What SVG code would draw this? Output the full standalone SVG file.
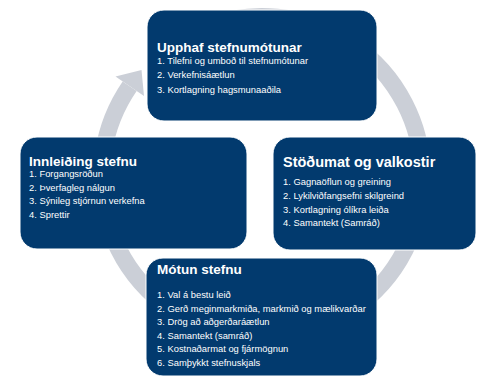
<svg xmlns="http://www.w3.org/2000/svg" width="485" height="381" viewBox="0 0 485 381">
  <style>
    .box { fill: #023a6e; stroke: #ffffff; stroke-width: 1; }
    .title { font-family: "Liberation Sans", Arial, sans-serif; font-weight: bold; font-size: 13.5px; fill: #ffffff; }
    .item { font-family: "Liberation Sans", Arial, sans-serif; font-size: 9.4px; fill: #ffffff; }
    .ring { fill: none; stroke: #cbcfd7; stroke-width: 17; }
    .head { fill: #cbcfd7; }
  </style>
  <rect width="485" height="381" fill="#ffffff"/>
  <g id="connectors">
    <path class="ring" d="M 207.1 26.2 A 160.5 160.5 0 1 1 129.65 86.2"/>
    <polygon class="head" points="115.5,76.5 141.5,70 144,96"/>
  </g>
  <g id="node-upphaf">
    <rect class="box" x="147" y="10" width="230" height="111" rx="17"/>
    <text class="title" x="157" y="52">Upphaf stefnumótunar</text>
    <text class="item" x="157" y="64">1. Tilefni og umboð til stefnumótunar</text>
    <text class="item" x="157" y="78">2. Verkefnisáætlun</text>
    <text class="item" x="157" y="93">3. Kortlagning hagsmunaaðila</text>
  </g>
  <g id="node-innleiding">
    <rect class="box" x="20" y="137" width="227" height="112" rx="17"/>
    <text class="title" x="29" y="166">Innleiðing stefnu</text>
    <text class="item" x="29" y="177">1. Forgangsröðun</text>
    <text class="item" x="29" y="190.5">2. Þverfagleg nálgun</text>
    <text class="item" x="29" y="204">3. Sýnileg stjórnun verkefna</text>
    <text class="item" x="29" y="217.5">4. Sprettir</text>
  </g>
  <g id="node-stodumat">
    <rect class="box" x="273" y="137" width="203" height="113" rx="17"/>
    <text class="title" x="283" y="167" style="font-size:14.5px">Stöðumat og valkostir</text>
    <text class="item" x="283" y="185">1. Gagnaöflun og greining</text>
    <text class="item" x="283" y="199">2. Lykilviðfangsefni skilgreind</text>
    <text class="item" x="283" y="212.5">3. Kortlagning ólíkra leiða</text>
    <text class="item" x="283" y="226">4. Samantekt (Samráð)</text>
  </g>
  <g id="node-motun">
    <rect class="box" x="146" y="258" width="231" height="118" rx="17"/>
    <text class="title" x="157" y="274">Mótun stefnu</text>
    <text class="item" x="157" y="298">1. Val á bestu leið</text>
    <text class="item" x="157" y="311.5">2. Gerð meginmarkmiða, markmið og mælikvarðar</text>
    <text class="item" x="157" y="325">3. Drög að aðgerðaráætlun</text>
    <text class="item" x="157" y="338.5">4. Samantekt (samráð)</text>
    <text class="item" x="157" y="352">5. Kostnaðarmat og fjármögnun</text>
    <text class="item" x="157" y="365.5">6. Samþykkt stefnuskjals</text>
  </g>
</svg>
